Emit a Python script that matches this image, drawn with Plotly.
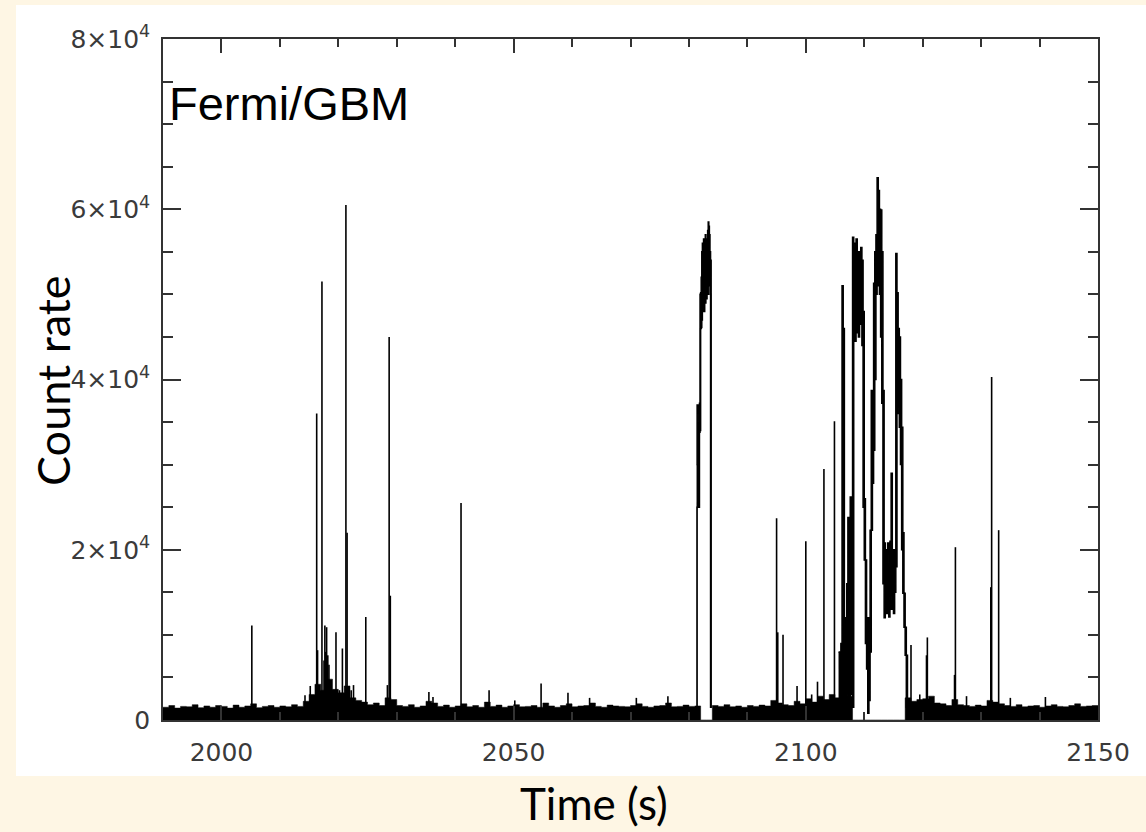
import plotly.graph_objects as go

# ---------------- data ----------------
# background noise band: upper envelope per 1-s bin, starting at t=1990 s
bg_start = 1990
bg_upper = [
    1500, 1700, 1400, 1600, 1550, 1800, 1450, 1650, 1500, 1700,   # 1990
    1600, 1400, 1750, 1500, 1650, 1900, 1450, 1600, 1700, 1500,   # 2000
    1650, 1550, 1800, 1600, 2200, 3000, 4200, 3500, 4800, 3600,   # 2010
    3200, 4000, 2600, 2300, 2100, 1800, 2000, 1700, 2600, 2400,   # 2020
    1700, 1600, 1800, 1500, 1650, 2200, 2000, 1600, 1750, 1500,   # 2030
    1650, 1900, 1550, 1700, 1500, 2100, 1600, 1750, 1500, 1650,   # 2040
    1800, 1550, 1600, 1700, 1500, 2000, 1650, 1500, 1700, 1900,   # 2050
    1550, 1650, 1700, 2000, 1600, 1500, 1750, 1650, 1600, 1550,   # 2060
    1700, 1900, 1600, 1500, 1650, 1700, 2000, 1550, 1600, 1750,   # 2070
    1600, 1650, 0, 0, 1700, 1600, 1800, 1550, 1650, 1500,         # 2080
    1700, 1600, 1750, 1650, 2300, 2000, 1800, 1700, 2200, 1900,   # 2090
    2500, 2100, 2800, 2400, 3000, 2600, 3500, 2800, 0, 0,         # 2100
    0, 0, 0, 0, 0, 0, 0, 2600, 2200, 2400,                        # 2110
    2500, 2800, 2000, 1900, 1700, 2400, 1800, 1700, 1600, 1750,   # 2120
    1650, 2300, 2100, 1900, 1700, 1600, 1800, 1550, 1650, 1700,   # 2130
    1500, 1650, 1800, 1600, 1550, 1700, 1900, 1600, 1650, 1700,   # 2140
]

# isolated spikes: time (s) and peak count rate
spike_t = [2005.2, 2014.3, 2015.2, 2016.3, 2016.45, 2017.2, 2017.55, 2017.7,
           2017.85, 2018.0, 2018.2, 2018.4, 2019.6, 2020.2, 2020.7, 2021.3,
           2021.5, 2022.2, 2022.6, 2024.7, 2028.4, 2028.7, 2028.9, 2035.5,
           2036.2, 2041.0, 2045.8, 2050.2, 2054.7, 2059.3, 2063.0, 2071.0,
           2076.4, 2095.0, 2095.2, 2096.1, 2098.5, 2100.0, 2101.0, 2102.0,
           2103.1, 2104.9, 2118.0, 2119.5, 2120.65, 2120.8, 2125.45, 2125.6,
           2127.5, 2131.65, 2131.8, 2133.0, 2135.0, 2141.0]
spike_v = [11100, 2900, 4000, 36000, 8200, 51500, 7000, 11100,
           8000, 10900, 7600, 6500, 10300, 3500, 8400, 60500,
           22000, 3500, 4100, 12100, 4100, 45000, 14600, 3300,
           2700, 25500, 3500, 2300, 4300, 3200, 2600, 2600,
           2800, 23700, 10300, 10000, 4000, 21000, 3000, 4500,
           29500, 35100, 8800, 3000, 7600, 9700, 5300, 20300,
           2800, 15600, 40300, 22300, 2600, 2700]

# first burst: per 0.1-s bin, highest and lowest count rate, from 2081.3 s
burst1_start = 2081.3
burst1_step = 0.1
burst1_hi = [30000, 37000, 36000, 37000, 35000, 37200, 50000, 50200, 52000, 55000,
             56000, 55500, 56500, 55000, 56000, 57000, 55500, 56500, 56000, 57500,
             58500, 58000, 57000, 55000, 54000, 1500]
burst1_lo = [1500, 25000, 25500, 26000, 25000, 33800, 34000, 46000, 46100, 47000,
             48000, 48100, 49000, 48000, 50000, 49000, 50000, 49500, 51000, 50000,
             52000, 51000, 52000, 50000, 1500, 1500]

# second (main) burst: per 0.2-s bin, highest and lowest count rate, from 2105.6 s
burst2_start = 2105.6
burst2_step = 0.2
burst2_hi = [8000, 6000, 9000, 51000, 46000, 11000, 12000, 16000, 23800, 14000,
             26200, 15000, 56700, 56000, 55500, 56500, 54000, 55000, 53500, 55500,
             54000, 48000, 26000, 18800, 12000, 10000, 12000, 22300, 38700, 38700,
             51300, 55000, 57000, 63700, 62200, 60000, 59900, 55000, 38700, 20800,
             20000, 19500, 20800, 18400, 21000, 29000, 20000, 19000, 20000, 54800,
             50200, 46000, 45000, 40000, 34400, 22000, 14900, 10900, 7600, 1500]
burst2_lo = [1500, 2000, 2500, 3000, 2500, 2000, 2500, 2000, 3000, 2500,
             3500, 3000, 1500, 45000, 44500, 45500, 46000, 45000, 46500, 47000,
             44000, 25000, 18800, 9000, 6000, 800, 2300, 8000, 22300, 27800,
             31700, 40000, 50000, 51000, 51000, 50000, 45000, 37200, 16000, 12000,
             13000, 12500, 14000, 12100, 14500, 13000, 14000, 12500, 15000, 18000,
             36700, 36000, 34400, 30000, 20000, 14900, 10900, 7600, 1500, 1500]

x_range = [1990, 2150]
y_range = [0, 80000]
y_tickvals = [0, 20000, 40000, 60000, 80000]
y_ticktext = ["0", "2×10<sup>4</sup>", "4×10<sup>4</sup>", "6×10<sup>4</sup>", "8×10<sup>4</sup>"]
x_tickvals = [2000, 2050, 2100, 2150]

# ---------------- figure ----------------
fig = go.Figure()

bg_x = [bg_start + i for i in range(len(bg_upper))] + [x_range[1]]
bg_y = bg_upper + [bg_upper[-1]]
fig.add_trace(go.Scatter(x=bg_x, y=bg_y, mode="lines",
                         line=dict(shape="hv", width=0.5, color="black", simplify=False),
                         fill="tozeroy", fillcolor="black", hoverinfo="skip"))

sx, sy = [], []
for t, v in zip(spike_t, spike_v):
    sx += [t, t, None]
    sy += [0, v, None]
fig.add_trace(go.Scatter(x=sx, y=sy, mode="lines", line=dict(width=1.6, color="black", simplify=False),
                         hoverinfo="skip"))

# bursts: the rapidly varying rate fills the band between the lowest and highest value of each bin
for start, step, hi, lo in [(burst1_start, burst1_step, burst1_hi, burst1_lo),
                            (burst2_start, burst2_step, burst2_hi, burst2_lo)]:
    edges = [start + step * i for i in range(len(hi) + 1)]
    fig.add_trace(go.Scatter(x=edges, y=lo + [lo[-1]], mode="lines",
                             line=dict(shape="hv", width=1.5, color="black", simplify=False),
                             hoverinfo="skip"))
    fig.add_trace(go.Scatter(x=edges, y=hi + [hi[-1]], mode="lines", fill="tonexty", fillcolor="black",
                             line=dict(shape="hv", width=1.5, color="black", simplify=False),
                             hoverinfo="skip"))

L, R, T, B = 163, 48, 39, 112
W, H = 1146, 832
pw, ph = W - L - R, H - T - B


def px(xp):
    return (xp - L) / pw


def py(yp):
    return (H - B - yp) / ph


tickfont = dict(family="DejaVu Sans", size=25, color="#3a3a3a")
fig.update_layout(
    width=W, height=H,
    margin=dict(l=L, r=R, t=T, b=B),
    paper_bgcolor="#FEF6E4",
    plot_bgcolor="white",
    showlegend=False,
    xaxis=dict(range=x_range, tickvals=x_tickvals, ticks="inside", ticklen=14, tickwidth=1.5,
               tickcolor="#333", showline=True, linecolor="#333", linewidth=1.5, mirror="allticks",
               showgrid=False, zeroline=False, tickfont=tickfont, ticklabelstandoff=9,
               minor=dict(dtick=10, ticks="inside", ticklen=8, tickwidth=1.5, tickcolor="#333", showgrid=False)),
    yaxis=dict(range=y_range, tickvals=y_tickvals, ticktext=y_ticktext, ticks="inside", ticklen=18,
               tickwidth=1.5, tickcolor="#333", showline=True, linecolor="#333", linewidth=1.5,
               mirror="allticks", showgrid=False, zeroline=False, tickfont=tickfont, ticklabelstandoff=6,
               minor=dict(dtick=5000, ticks="inside", ticklen=10, tickwidth=1.5, tickcolor="#333",
                          showgrid=False)),
    shapes=[dict(type="rect", xref="paper", yref="paper", x0=px(16), x1=px(1146), y0=py(776), y1=py(5),
                 fillcolor="white", line=dict(width=0), layer="below")],
    annotations=[
        dict(text="Fermi/GBM", xref="paper", yref="paper", x=px(167), y=py(104), xanchor="left",
             yanchor="middle", showarrow=False, font=dict(family="Liberation Sans", size=47, color="black")),
        dict(text="Count rate", xref="paper", yref="paper", x=px(53), y=py(381), xanchor="center",
             yanchor="middle", textangle=-90, showarrow=False,
             font=dict(family="Lato", size=45, color="black")),
        dict(text="Time (s)", xref="paper", yref="paper", x=px(594), y=py(803), xanchor="center",
             yanchor="middle", showarrow=False, font=dict(family="Lato", size=44, color="black")),
    ],
)

fig.write_html("out.html")
